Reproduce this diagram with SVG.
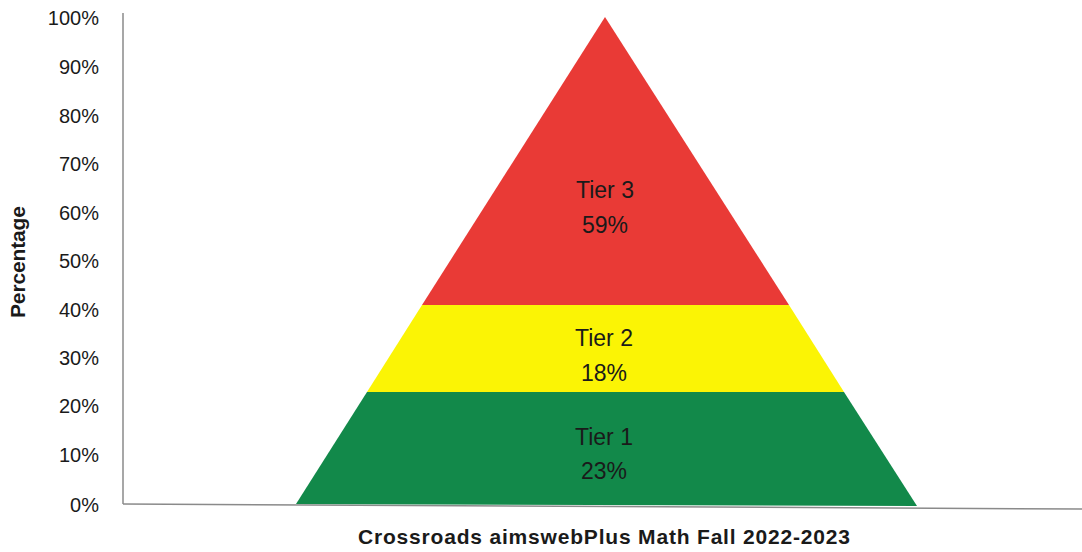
<svg xmlns="http://www.w3.org/2000/svg" width="1082" height="552" viewBox="0 0 1082 552">
<style>
.tick{font-family:"Liberation Sans",Arial,sans-serif;font-size:20px;fill:#1a1a1a;text-anchor:end}
.lbl{font-family:"Liberation Sans",Arial,sans-serif;font-size:23px;fill:#1a1a1a;text-anchor:middle}
.ttl{font-family:"Liberation Sans",Arial,sans-serif;font-size:21px;font-weight:bold;fill:#1a1a1a;text-anchor:middle}
.axis{stroke:#8a8a8a;stroke-width:1.5;fill:none}
</style>
<rect width="1082" height="552" fill="#ffffff"/>
<g id="axes">
<line class="axis" x1="123" y1="13" x2="123" y2="504"/>
<line class="axis" x1="123" y1="504" x2="1082" y2="509"/>
</g>
<g id="ticks">
<text class="tick" x="99" y="25">100%</text>
<text class="tick" x="99" y="74">90%</text>
<text class="tick" x="99" y="123">80%</text>
<text class="tick" x="99" y="171">70%</text>
<text class="tick" x="99" y="220">60%</text>
<text class="tick" x="99" y="268">50%</text>
<text class="tick" x="99" y="317">40%</text>
<text class="tick" x="99" y="365">30%</text>
<text class="tick" x="99" y="413">20%</text>
<text class="tick" x="99" y="462">10%</text>
<text class="tick" x="99" y="512">0%</text>
</g>
<g id="ylabel">
<text class="ttl" transform="translate(25,262) rotate(-90)" font-size="20" textLength="112">Percentage</text>
</g>
<g id="tier3">
<polygon points="605,17 789,305 422,305" fill="#e93a36"/>
<text class="lbl" x="605" y="198">Tier 3</text>
<text class="lbl" x="605" y="233">59%</text>
</g>
<g id="tier2">
<polygon points="422,305 789,305 844,392 367,392" fill="#fbf405"/>
<text class="lbl" x="604" y="346">Tier 2</text>
<text class="lbl" x="604" y="381">18%</text>
</g>
<g id="tier1">
<polygon points="367,392 844,392 917,506 296,504" fill="#12894a"/>
<text class="lbl" x="604" y="445">Tier 1</text>
<text class="lbl" x="604" y="479">23%</text>
</g>
<g id="title">
<text class="ttl" x="604" y="544" textLength="492">Crossroads aimswebPlus Math Fall 2022-2023</text>
</g>
</svg>
